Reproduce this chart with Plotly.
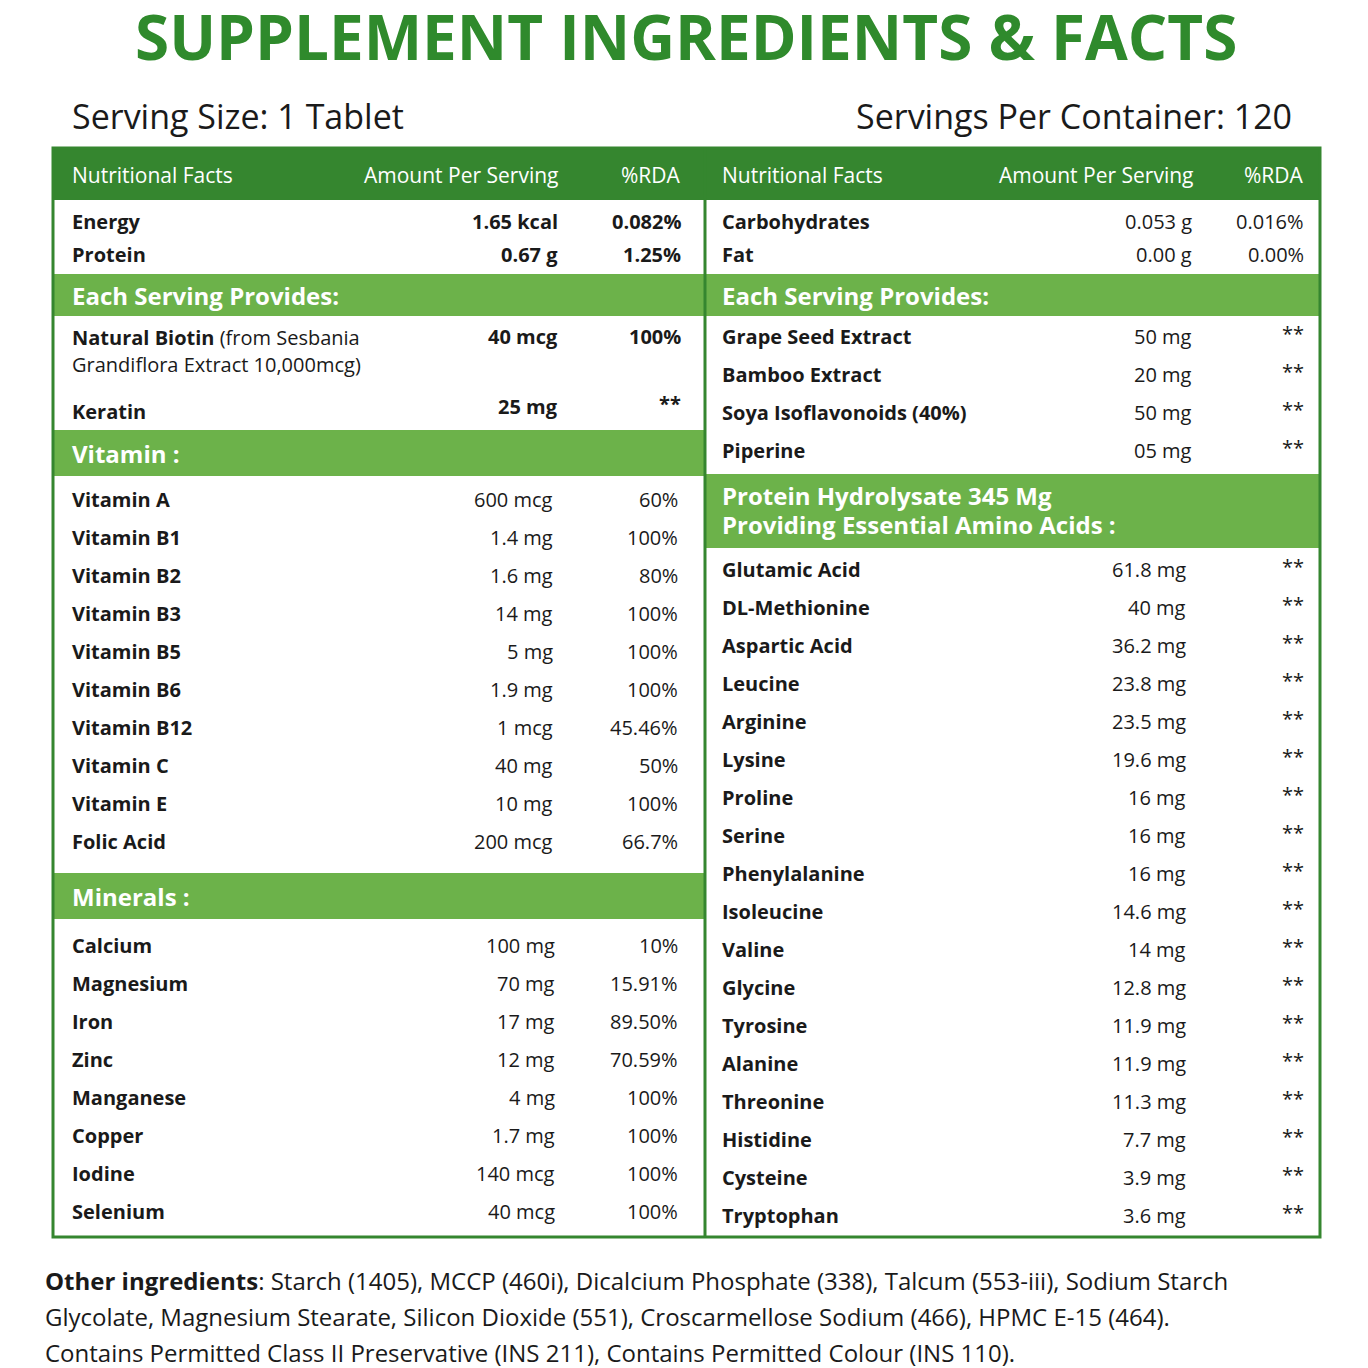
import plotly.graph_objects as go

# data
basic_left = [("Energy", "1.65 kcal", "0.082%"), ("Protein", "0.67 g", "1.25%")]
basic_right = [("Carbohydrates", "0.053 g", "0.016%"), ("Fat", "0.00 g", "0.00%")]
vitamins = ["Vitamin A", "Vitamin B1", "Vitamin B2", "Vitamin B3", "Vitamin B5", "Vitamin B6",
            "Vitamin B12", "Vitamin C", "Vitamin E", "Folic Acid"]
vitamin_amt = ["600 mcg", "1.4 mg", "1.6 mg", "14 mg", "5 mg", "1.9 mg", "1 mcg", "40 mg", "10 mg", "200 mcg"]
vitamin_rda = ["60%", "100%", "80%", "100%", "100%", "100%", "45.46%", "50%", "100%", "66.7%"]
minerals = ["Calcium", "Magnesium", "Iron", "Zinc", "Manganese", "Copper", "Iodine", "Selenium"]
mineral_amt = ["100 mg", "70 mg", "17 mg", "12 mg", "4 mg", "1.7 mg", "140 mcg", "40 mcg"]
mineral_rda = ["10%", "15.91%", "89.50%", "70.59%", "100%", "100%", "100%", "100%"]
extracts = ["Grape Seed Extract", "Bamboo Extract", "Soya Isoflavonoids (40%)", "Piperine"]
extract_amt = ["50 mg", "20 mg", "50 mg", "05 mg"]
aminos = ["Glutamic Acid", "DL-Methionine", "Aspartic Acid", "Leucine", "Arginine", "Lysine", "Proline",
          "Serine", "Phenylalanine", "Isoleucine", "Valine", "Glycine", "Tyrosine", "Alanine",
          "Threonine", "Histidine", "Cysteine", "Tryptophan"]
amino_amt = ["61.8 mg", "40 mg", "36.2 mg", "23.8 mg", "23.5 mg", "19.6 mg", "16 mg", "16 mg", "16 mg",
             "14.6 mg", "14 mg", "12.8 mg", "11.9 mg", "11.9 mg", "11.3 mg", "7.7 mg", "3.9 mg", "3.6 mg"]
other_lines = [
    "<b>Other ingredients</b>: Starch (1405), MCCP (460i), Dicalcium Phosphate (338), Talcum (553-iii), Sodium Starch",
    "Glycolate, Magnesium Stearate, Silicon Dioxide (551), Croscarmellose Sodium (466), HPMC E-15 (464).",
    "Contains Permitted Class II Preservative (INS 211), Contains Permitted Colour (INS 110).",
]

DARK = "#35862f"
LIGHT = "#6cb24a"
TXT = "#1a1a1a"
FONT = "Open Sans"

fig = go.Figure()
ann = []
shapes = []

def txt(x, y, s, size=20, anchor="left", color=TXT, bold=False):
    if bold:
        s = "<b>" + s + "</b>"
    ann.append(dict(x=x, y=y, text=s, showarrow=False, xanchor=anchor, yanchor="middle",
                    font=dict(family=FONT, size=size, color=color)))

def bar(x0, x1, y0, y1, color):
    shapes.append(dict(type="rect", x0=x0, x1=x1, y0=y0, y1=y1, fillcolor=color, line_width=0, layer="below"))

# title
txt(686, 36, "SUPPLEMENT INGREDIENTS &amp; FACTS", size=62, anchor="center", color="#2f8a2c", bold=True)
txt(70, 116, "Serving Size: 1 Tablet", size=34)
txt(1294, 116, "Servings Per Container: 120", size=34, anchor="right")

# header
bar(53, 1320, 148, 200, DARK)
for x0, xa, xr in [(70, 560, 683), (720, 1195, 1306)]:
    txt(x0, 175, "Nutritional Facts", size=21, color="white")
    txt(xa, 175, "Amount Per Serving", size=21, color="white", anchor="right")
    txt(xr, 175, "%RDA", size=21, color="white", anchor="right")

for i, (n, a, r) in enumerate(basic_left):
    y = 221 + 33 * i
    txt(70, y, n, bold=True); txt(560, y, a, bold=True, anchor="right"); txt(683, y, r, bold=True, anchor="right")
for i, (n, a, r) in enumerate(basic_right):
    y = 221 + 33 * i
    txt(720, y, n, bold=True); txt(1194, y, a, anchor="right"); txt(1306, y, r, anchor="right")

# each serving provides
bar(53, 705, 274, 316, LIGHT)
bar(705, 1320, 274, 316, LIGHT)
txt(70, 295, "Each Serving Provides:", size=24, color="white", bold=True)
txt(720, 295, "Each Serving Provides:", size=24, color="white", bold=True)

txt(70, 337, "<b>Natural Biotin</b> (from Sesbania")
txt(70, 364, "Grandiflora Extract 10,000mcg)")
txt(560, 336, "40 mcg", bold=True, anchor="right"); txt(683, 336, "100%", bold=True, anchor="right")
txt(70, 411, "Keratin", bold=True)
txt(560, 406, "25 mg", bold=True, anchor="right"); txt(683, 403, "**", bold=True, anchor="right")

for i, n in enumerate(extracts):
    y = 336 + 38 * i
    txt(720, y, n, bold=True); txt(1194, y, extract_amt[i], anchor="right"); txt(1306, y - 3, "**", anchor="right")

# vitamins
bar(53, 705, 430, 476, LIGHT)
txt(70, 453, "Vitamin :", size=24, color="white", bold=True)
for i, n in enumerate(vitamins):
    y = 499 + 38 * i
    txt(70, y, n, bold=True); txt(555, y, vitamin_amt[i], anchor="right"); txt(680, y, vitamin_rda[i], anchor="right")

# minerals
bar(53, 705, 873, 919, LIGHT)
txt(70, 896, "Minerals :", size=24, color="white", bold=True)
for i, n in enumerate(minerals):
    y = 945 + 38 * i
    txt(70, y, n, bold=True); txt(557, y, mineral_amt[i], anchor="right"); txt(680, y, mineral_rda[i], anchor="right")

# amino acids
bar(705, 1320, 474, 548, LIGHT)
txt(720, 495, "Protein Hydrolysate 345 Mg", size=24, color="white", bold=True)
txt(720, 524, "Providing Essential Amino Acids :", size=24, color="white", bold=True)
for i, n in enumerate(aminos):
    y = 569 + 38 * i
    txt(720, y, n, bold=True); txt(1188, y, amino_amt[i], anchor="right"); txt(1306, y - 3, "**", anchor="right")

# border
shapes.append(dict(type="rect", x0=53, x1=1320, y0=148, y1=1237, line=dict(color=DARK, width=3)))
shapes.append(dict(type="line", x0=705, x1=705, y0=148, y1=1237, line=dict(color=DARK, width=3)))

for i, s in enumerate(other_lines):
    txt(43, 1280 + 36 * i, s, size=24)

fig.update_layout(width=1368, height=1368, margin=dict(l=0, r=0, t=0, b=0),
                  plot_bgcolor="white", paper_bgcolor="white", showlegend=False,
                  annotations=ann, shapes=shapes,
                  xaxis=dict(range=[8, 1376], visible=False, fixedrange=True),
                  yaxis=dict(range=[1376, 8], visible=False, fixedrange=True))
fig.write_html("out.html")
